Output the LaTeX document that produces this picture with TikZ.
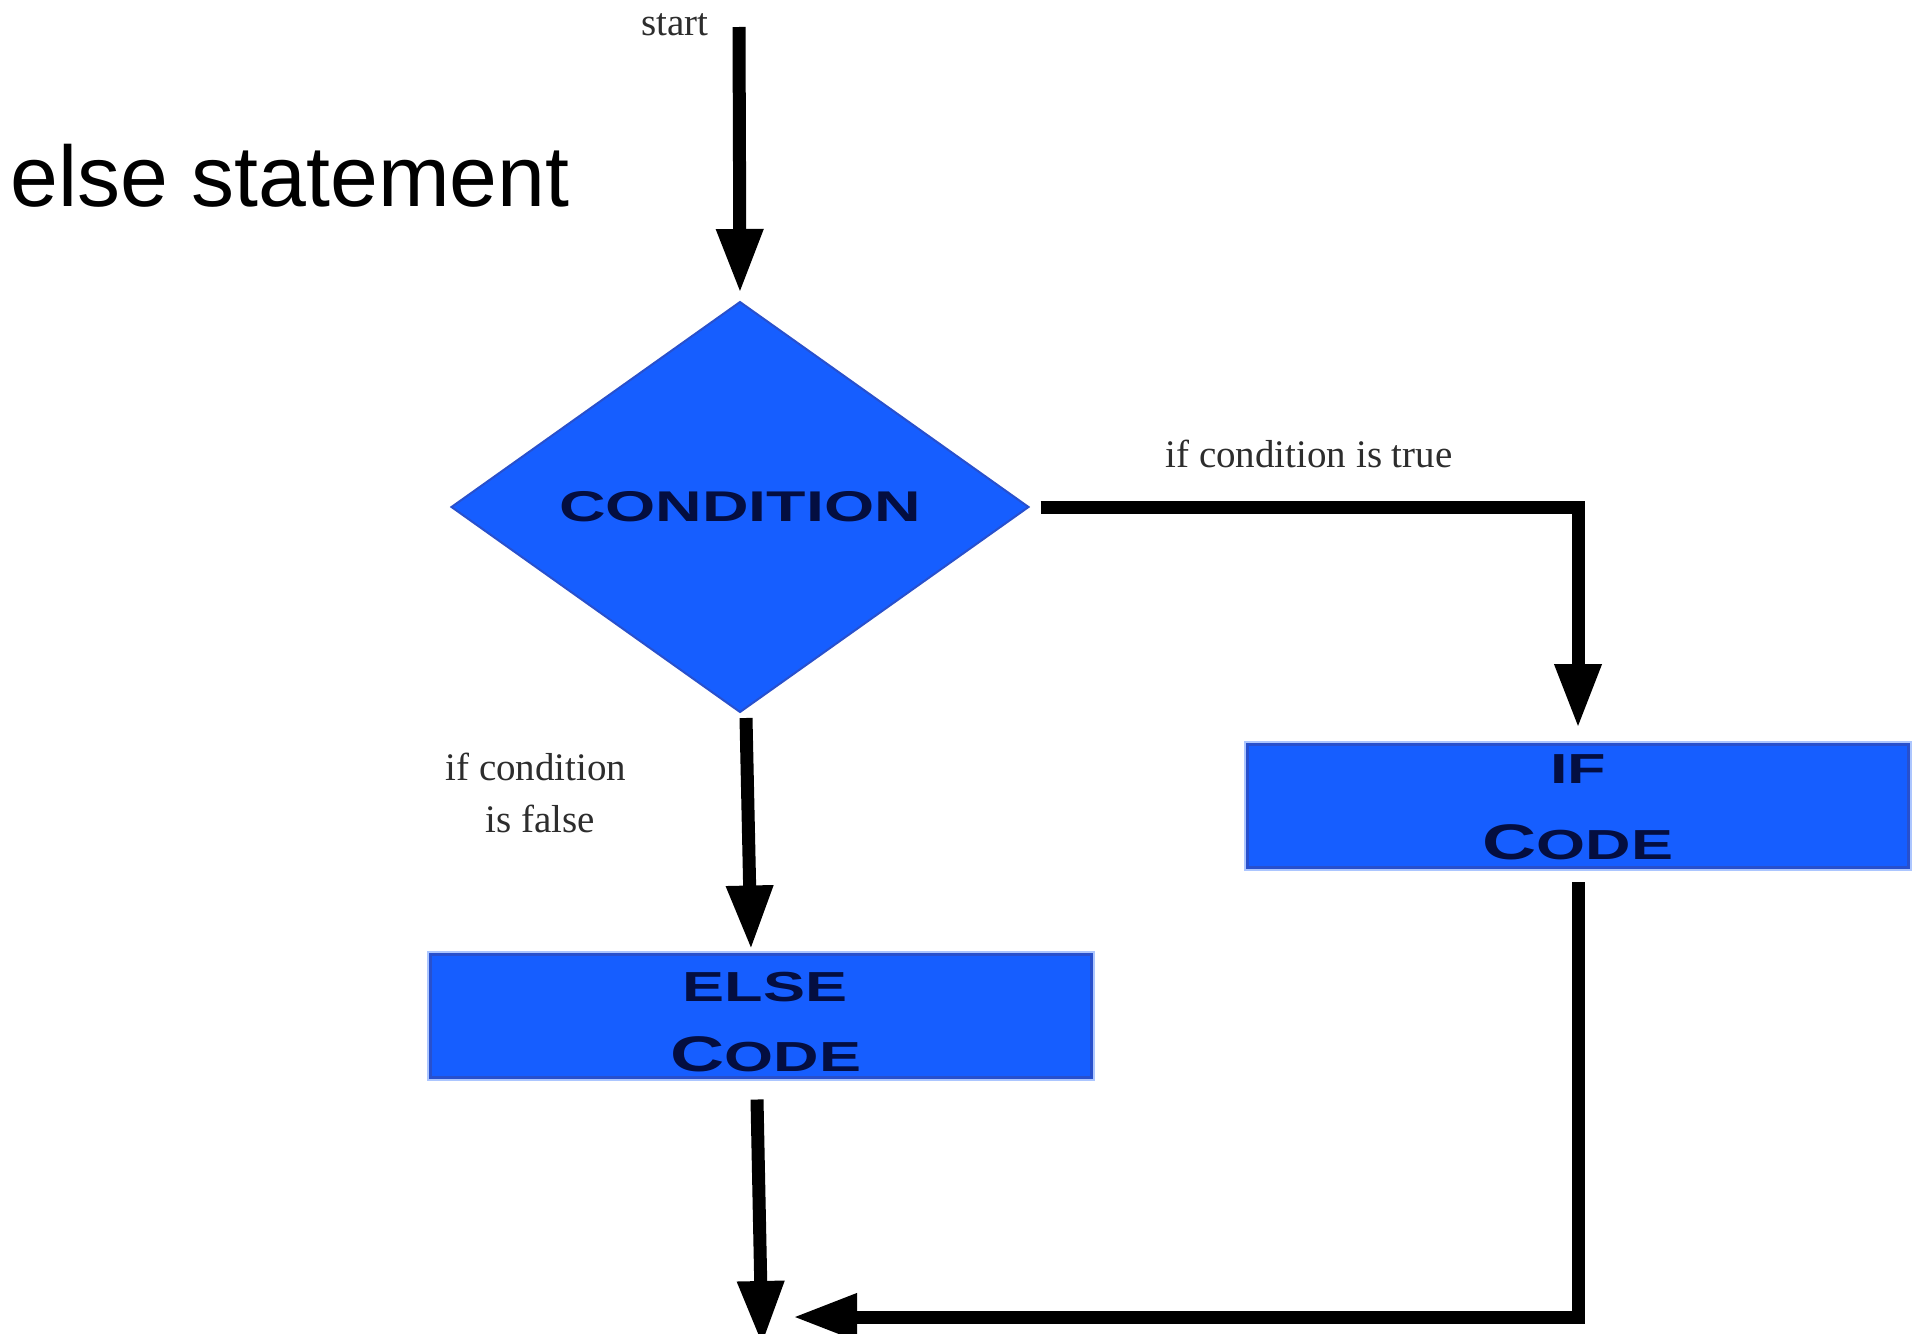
\documentclass[tikz,border=0pt]{standalone}
\usepackage{fontspec}
\setmainfont{Liberation Serif}
\newfontfamily\titlefont{Liberation Sans}
\newfontfamily\techfont{Liberation Sans}[FakeStretch=1.5]
\usetikzlibrary{shapes.geometric,arrows.meta}

\definecolor{flowblue}{RGB}{22,94,255}
\definecolor{edgeblue}{RGB}{40,80,205}
\definecolor{haloblue}{RGB}{172,198,255}
\definecolor{inkblue}{RGB}{4,14,64}
\definecolor{labelgrey}{RGB}{45,45,45}

\newcommand{\smallcapcode}{{\fontsize{50}{50}\selectfont C}{\fontsize{42}{42}\selectfont ODE}}

\begin{document}
\begin{tikzpicture}[x=1pt,y=-1pt,
  flow/.style={draw=black, line width=13pt, line join=miter,
    -{Triangle[length=64pt,width=44pt]}},
  decision/.style={diamond, fill=flowblue, draw=edgeblue, line width=2pt,
    minimum width=577pt, minimum height=410pt, aspect=1.407,
    inner sep=0pt, outer sep=0pt,
    font=\techfont\bfseries\fontsize{43}{43}\selectfont, text=inkblue},
  codebox/.style={rectangle, fill=flowblue, draw=edgeblue, line width=3pt,
    minimum width=661pt, minimum height=123pt, inner sep=0pt, outer sep=0pt,
    preaction={draw=haloblue, line width=7pt}},
  boxtext/.style={inner sep=0pt, text=inkblue,
    font=\techfont\bfseries\fontsize{42}{42}\selectfont},
  flowlabel/.style={inner sep=0pt, text=labelgrey,
    font=\fontsize{39}{47}\selectfont}]

% page
\path[use as bounding box, fill=white] (0,0) rectangle (1921,1333);

% heading
\node[anchor=base west, inner sep=0pt,
  font=\titlefont\fontsize{86}{100}\selectfont] (title) at (10,206) {else statement};

% shapes
\node[decision] (cond) at (740,507) {CONDITION};
\node[codebox] (ifc) at (1578,805.5) {};
\node[codebox] (elc) at (761,1016) {};

\node[boxtext, anchor=base] (iftxt) at ([yshift=-39pt]ifc.north) {IF};
\node[boxtext, anchor=base] (ifcode) at ([yshift=-115pt]ifc.north) {\smallcapcode};
\node[boxtext, anchor=base] (eltxt) at ([xshift=4pt,yshift=-47pt]elc.north) {ELSE};
\node[boxtext, anchor=base] (elcode) at ([xshift=5pt,yshift=-117pt]elc.north) {\smallcapcode};

% labels
\node[flowlabel, anchor=base] (startlbl) at (675,35) {start};
\node[flowlabel, anchor=base] (truelbl) at (1309,467) {if condition is true};
\node[flowlabel, anchor=base] (falselbl1) at (536,780) {if condition};
\node[flowlabel, anchor=base] (falselbl2) at (540,832) {is false};

% connectors
\coordinate (entry) at (739,27);
\coordinate (exit) at (762,1345);
\coordinate (merge) at (793,1317);

\draw[flow, shorten >=9pt] (entry) -- (cond.north);
\draw[flow, shorten <=12pt, shorten >=16pt] (cond.east) -| (ifc.north);
\draw[flow] ([xshift=6pt,yshift=-6pt]cond.south) -- ([xshift=-10pt,yshift=5pt]elc.north);
\draw[flow] ([xshift=-4pt,yshift=-22pt]elc.south) -- (exit);
\draw[flow] ([yshift=-15pt]ifc.south) |- (merge);

\end{tikzpicture}
\end{document}
